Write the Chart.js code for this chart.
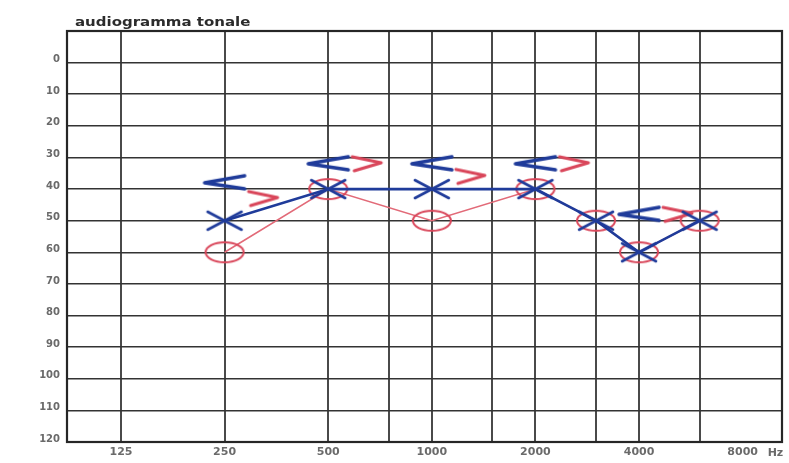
<!DOCTYPE html>
<html>
<head>
<meta charset="utf-8">
<title>audiogramma tonale</title>
<script src="https://cdn.jsdelivr.net/npm/chart.js@4.4.1/dist/chart.umd.min.js"></script>
<style>
  html, body { margin: 0; padding: 0; background: #fff; }
  canvas { display: block; }
</style>
</head>
<body>
<canvas id="audiogramma" width="789" height="463"></canvas>
<script>
var frequenze = [250, 500, 1000, 2000, 3000, 4000, 6000];
var viaAereaDx = [60, 40, 50, 40, 50, 60, 50];   // O rosso
var viaAereaSx = [50, 40, 40, 40, 50, 60, 50];   // X blu
var frequenzeOssea = [250, 500, 1000, 2000, 4000];
var viaOsseaSx = [38, 32, 32, 32, 48];           // < blu
var viaOsseaDx = [43, 32, 36, 32, 48];           // > rosso
var tickFrequenze = [125, 250, 500, 750, 1000, 1500, 2000, 3000, 4000, 6000, 8000];
var etichetteFrequenze = [125, 250, 500, 1000, 2000, 4000, 8000];
var tickDecibel = [0, 10, 20, 30, 40, 50, 60, 70, 80, 90, 100, 110, 120];

var BLU = '#1f3b9a';
var ROSSO = '#d9465a';

function punti(xs, ys) {
    return xs.map(function (f, i) { return { x: f, y: ys[i] }; });
}

// simboli disegnati a mano su piccoli canvas
function simbolo(w, h, disegna) {
    var c = document.createElement('canvas');
    c.width = w;
    c.height = h;
    var g = c.getContext('2d');
    g.lineCap = 'round';
    g.lineJoin = 'round';
    disegna(g, w / 2, h / 2);
    return c;
}

var cerchioRosso = simbolo(46, 26, function (g, cx, cy) {
    g.strokeStyle = ROSSO;
    g.lineWidth = 2;
    g.beginPath();
    g.ellipse(cx, cy, 19, 10, 0, 0, Math.PI * 2);
    g.stroke();
});

var crocettaBlu = simbolo(42, 24, function (g, cx, cy) {
    g.strokeStyle = BLU;
    g.lineWidth = 2.6;
    g.beginPath();
    g.moveTo(cx - 17, cy - 9); g.lineTo(cx + 17, cy + 9);
    g.moveTo(cx - 17, cy + 9); g.lineTo(cx + 17, cy - 9);
    g.stroke();
});

var minoreBlu = simbolo(50, 20, function (g, cx, cy) {
    g.strokeStyle = BLU;
    g.lineWidth = 3.5;
    g.beginPath();
    g.moveTo(cx + 20, cy - 7);
    g.lineTo(cx - 20, cy);
    g.lineTo(cx + 20, cy + 6);
    g.stroke();
});

// il ">" rosso sta a destra della frequenza
var maggioreRosso = simbolo(120, 22, function (g, cx, cy) {
    g.strokeStyle = ROSSO;
    g.lineWidth = 3;
    g.beginPath();
    g.moveTo(cx + 24, cy - 7);
    g.lineTo(cx + 53, cy - 1);
    g.lineTo(cx + 26, cy + 7);
    g.stroke();
});

var cornice = {
    id: 'cornice',
    beforeDatasetsDraw: function (chart) {
        var a = chart.chartArea, ctx = chart.ctx;
        ctx.save();
        ctx.strokeStyle = '#262626';
        ctx.lineWidth = 2.2;
        ctx.strokeRect(a.left, a.top, a.right - a.left, a.bottom - a.top);
        ctx.restore();
    },
    afterDraw: function (chart) {
        var a = chart.chartArea, ctx = chart.ctx;
        ctx.save();
        ctx.fillStyle = '#2b2b2b';
        ctx.font = 'bold 12px "DejaVu Sans"';
        ctx.translate(a.left + 8, a.top - 5);
        ctx.scale(1.25, 1);
        ctx.fillText('audiogramma tonale', 0, 0);
        ctx.restore();

        ctx.save();
        ctx.fillStyle = '#6a6a6a';
        ctx.font = 'bold 11px "DejaVu Sans"';
        ctx.textAlign = 'left';
        ctx.textBaseline = 'middle';
        ctx.fillText('Hz', chart.scales.x.getPixelForValue(8000) + 25, a.bottom + 11);
        ctx.restore();
    }
};

var ctx = document.getElementById('audiogramma');

var grafico = new Chart(ctx, {
    type: 'line',
    data: {
        datasets: [{
            label: 'via aerea sx',
            data: punti(frequenze, viaAereaSx),
            borderColor: BLU,
            borderWidth: 2.6,
            pointStyle: crocettaBlu,
            order: 1
        }, {
            label: 'via aerea dx',
            data: punti(frequenze, viaAereaDx),
            borderColor: '#e26a78',
            borderWidth: 1.6,
            pointStyle: cerchioRosso,
            order: 3
        }, {
            label: 'via ossea sx',
            data: punti(frequenzeOssea, viaOsseaSx),
            showLine: false,
            pointStyle: minoreBlu,
            order: 0
        }, {
            label: 'via ossea dx',
            data: punti(frequenzeOssea, viaOsseaDx),
            showLine: false,
            pointStyle: maggioreRosso,
            order: 2
        }]
    },
    options: {
        responsive: false,
        animation: false,
        layout: {
            padding: { top: 31, right: 7, left: 0, bottom: 0 }
        },
        plugins: {
            legend: { display: false },
            tooltip: { enabled: false }
        },
        scales: {
            x: {
                type: 'logarithmic',
                min: 87.1,
                max: 10410,
                afterBuildTicks: function (scale) {
                    scale.ticks = tickFrequenze.map(function (v) { return { value: v }; });
                },
                afterFit: function (scale) {
                    scale.height = 21;
                },
                ticks: {
                    autoSkip: false,
                    maxRotation: 0,
                    padding: 4,
                    color: '#6a6a6a',
                    font: { family: 'DejaVu Sans', size: 11, weight: 'bold' },
                    callback: function (value) {
                        return etichetteFrequenze.indexOf(value) >= 0 ? String(value) : '';
                    }
                },
                grid: {
                    drawTicks: false,
                    lineWidth: 2,
                    color: function (c) {
                        return c.tick && c.tick.value === 8000 ? 'rgba(0,0,0,0)' : '#4a4a4a';
                    }
                },
                border: { display: false }
            },
            y: {
                reverse: true,
                min: -10,
                max: 120,
                afterBuildTicks: function (scale) {
                    scale.ticks = [-10].concat(tickDecibel).map(function (v) { return { value: v }; });
                },
                afterFit: function (scale) {
                    scale.width = 67;
                },
                ticks: {
                    padding: 7,
                    labelOffset: -3,
                    color: '#6a6a6a',
                    font: { family: 'DejaVu Sans', size: 10, weight: 'bold' },
                    callback: function (value) {
                        return value < 0 ? '' : value;
                    }
                },
                grid: {
                    drawTicks: false,
                    lineWidth: 1.6,
                    color: '#333333'
                },
                border: { display: false }
            }
        }
    },
    plugins: [cornice]
});
</script>
</body>
</html>
